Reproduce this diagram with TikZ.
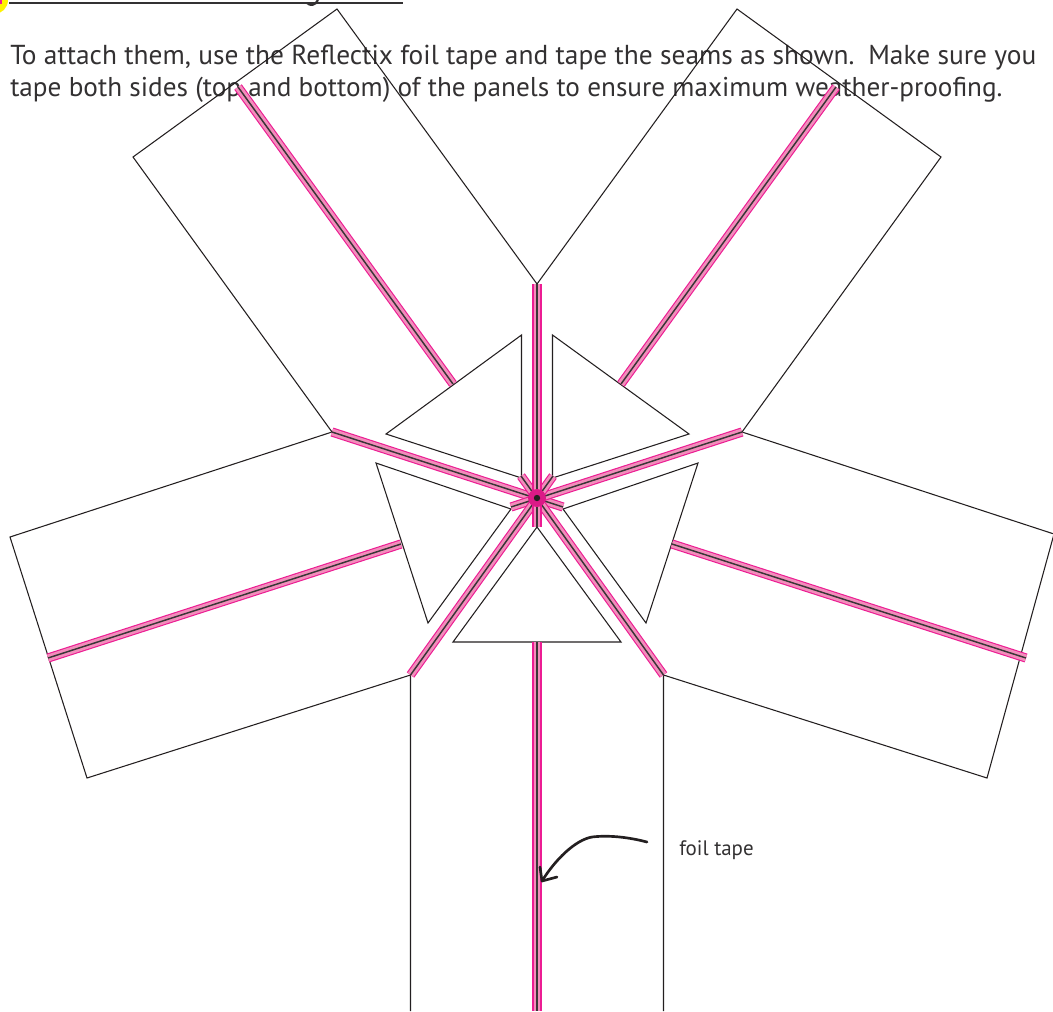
\documentclass[tikz,border=0pt]{standalone}
\usepackage{fontspec}
\setmainfont{PT Sans}
\definecolor{tapeedge}{HTML}{EC1C93}
\definecolor{tapefill}{HTML}{F28DBB}
\definecolor{hub}{HTML}{DB1A87}
\definecolor{ink}{HTML}{231F20}
\definecolor{txt}{HTML}{333132}
\tikzset{
 x=0.75pt,y=-0.75pt,
 panel/.style={draw=ink,line width=0.8pt,line join=miter},
 tapeE/.style={draw=tapeedge,line width=6.9pt,line cap=butt},
 tapeF/.style={draw=tapefill,line width=5.2pt,line cap=butt},
 tapeC/.style={draw=ink!90!white,line width=1.1pt,line cap=butt},
 bodyA/.style={inner sep=0pt,anchor=base west,text=txt,font=\fontsize{20.55}{24}\selectfont},
 bodyB/.style={inner sep=0pt,anchor=base west,text=txt,font=\fontsize{20.4}{24}\selectfont},
 lab/.style={inner sep=0pt,anchor=base west,text=txt,font=\fontsize{15.7}{18}\selectfont},
}
\newcommand{\tapeline}[2]{%
 \draw[tapeE] (#1) -- (#2);
 \draw[tapeF] (#1) -- (#2);
 \draw[tapeC] (#1) -- (#2);}
\begin{document}
\begin{tikzpicture}
\useasboundingbox (0,0) rectangle (1053,1011);
\clip (0,0) rectangle (1053,1011);
% corner badge and heading rule
\fill[yellow] (-6,0) circle (14);
\fill[tapeedge] (0,0) rectangle (2,4);
\coordinate (ruleA) at (9,3);
\coordinate (ruleB) at (403,3);
\draw[draw=txt,line width=1.5pt] (ruleA) -- (ruleB);
\draw[draw=txt,line width=1.6pt] (307,3) .. controls (310,6) and (315,6) .. (318,0);
% text
\node[bodyA] (line1) at (10,64.5) {To attach them, use the Reflectix foil tape and tape the seams as shown.\hspace{0.5em}Make sure you};
\node[bodyB] (line2) at (10,96.5) {tape both sides (top and bottom) of the panels to ensure maximum weather-proofing.};
% corners
\coordinate (C) at (537,498);
\coordinate (NV) at (537,284);
\coordinate (UL) at (332,432);
\coordinate (UR) at (742,432);
\coordinate (LL) at (410.5,675);
\coordinate (LR) at (663.5,675);
% panels
\draw[panel] (UL) -- (133,157) -- (337,9) -- (NV) -- (737,9) -- (941,157) -- (UR);
\draw[panel] (UL) -- (10,537) -- (87,778) -- (LL) -- (410.5,1011);
\draw[panel] (UR) -- (1054,534) -- (987,778) -- (LR) -- (663.5,1011);
% triangles
\draw[panel] (537,527) -- (453,642) -- (621,642) -- cycle;
\draw[panel] (376,463) -- (428,623) -- (511,509) -- cycle;
\draw[panel] (698,463) -- (646,623) -- (563,509) -- cycle;
\draw[panel] (521.5,335) -- (386,434) -- (521.5,478) -- cycle;
\draw[panel] (552.5,335) -- (689,434) -- (552.5,478) -- cycle;
% panel seams
\tapeline{238,87}{453,384}
\tapeline{836,87}{621,384}
\tapeline{48,658}{401,544}
\tapeline{1026,658}{672,544}
\tapeline{537,642}{537,1011}
% hub seams
\coordinate (xUL) at (563,507);
\coordinate (xUR) at (511,507);
\coordinate (xLL) at (553,476);
\coordinate (xLR) at (521,476);
\coordinate (xB) at (537,527);
\tapeline{UL}{xUL}
\tapeline{UR}{xUR}
\tapeline{LL}{xLL}
\tapeline{LR}{xLR}
\tapeline{NV}{xB}
\fill[hub] (C) circle (9);
\fill[ink] (C) circle (3.2);
% label and arrow
\node[lab] (foil) at (679,855) {foil tape};
\coordinate (arrowStart) at (647,842);
\coordinate (arrowEnd) at (542,881);
\draw[ink,line width=2pt,line cap=round] (arrowStart) .. controls (628,837) and (608,835) .. (592,837) .. controls (575,840) and (555,860) .. (arrowEnd);
\draw[ink,line width=2pt,line cap=round,line join=round] (540,867) -- (arrowEnd) -- (557,877);
\end{tikzpicture}
\end{document}
